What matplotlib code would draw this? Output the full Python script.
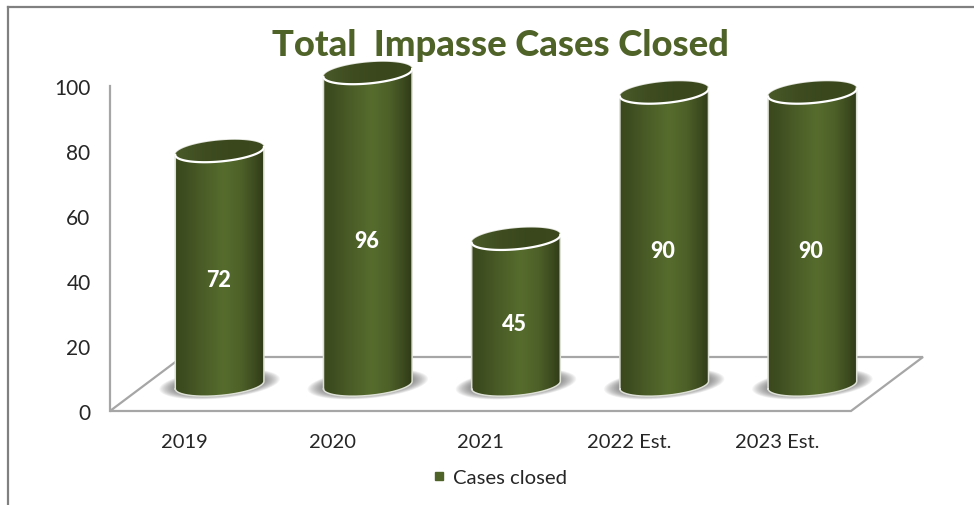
import numpy as np
import matplotlib
matplotlib.use('Agg')
import matplotlib.pyplot as plt
from matplotlib.colors import LinearSegmentedColormap
from matplotlib.lines import Line2D
from matplotlib.patches import Polygon

plt.rcParams['font.family'] = ['Lato', 'DejaVu Sans']

# chart values
categories = ['2019', '2020', '2021', '2022 Est.', '2023 Est.']
cases_closed = [72, 96, 45, 90, 90]
y_ticks = [0, 20, 40, 60, 80, 100]
series_name = 'Cases closed'
title = 'Total  Impasse Cases Closed'

W, H = 974, 506
LEFT, RIGHT, BOTTOM, TOP = 110, 851, 412, 87  # plot box in pixels
GREEN = '#4F6228'
GRAY = '#A6A6A6'

fig = plt.figure(figsize=(W / 100, H / 100), dpi=100)
ax = fig.add_axes([LEFT / W, 1 - BOTTOM / H, (RIGHT - LEFT) / W, (BOTTOM - TOP) / H])
ax.set_xlim(-0.5, len(categories) - 0.5)
ax.set_ylim(0, 100)

# pixel sizes expressed in data units
PX_X = len(categories) / (RIGHT - LEFT)
PX_Y = 100 / (BOTTOM - TOP)

DEPTH_X, DEPTH_Y = 72 * PX_X, 54 * PX_Y      # floor depth
BAR_DX, BAR_DY = 35.5 * PX_X, 26 * PX_Y      # bars stand mid floor
A, B, TILT = 44.5, 10.5, np.radians(5.2)     # ellipse of the cylinder, pixels


def ellipse(cx, cy, a=A, b=B, t0=0.0, t1=2 * np.pi, n=80):
    t = np.linspace(t0, t1, n)
    px = a * np.cos(t) * np.cos(TILT) - b * np.sin(t) * np.sin(TILT)
    py = a * np.cos(t) * np.sin(TILT) + b * np.sin(t) * np.cos(TILT)
    return cx + px * PX_X, cy + py * PX_Y


# floor and back wall line
n = len(categories)
x0, x1 = -0.5, n - 0.5
floor = Polygon([(x0, 0), (x1, 0), (x1 + DEPTH_X, DEPTH_Y), (x0 + DEPTH_X, DEPTH_Y)],
                closed=True, facecolor='white', edgecolor=GRAY, lw=1.6,
                clip_on=False, zorder=1)
ax.add_patch(floor)

side_cmap = LinearSegmentedColormap.from_list('side', [
    (0.0, '#3A481D'), (0.12, '#3F4E20'), (0.3, '#4A5C27'), (0.55, '#566C2D'),
    (0.75, '#4D6028'), (0.9, '#3D4B1F'), (1.0, '#2F3A17')])
top_cmap = LinearSegmentedColormap.from_list('top', ['#4A5A28', '#3E4C20', '#3A471D', '#3C491E'])
grad = np.linspace(0, 1, 256).reshape(1, -1)

for i, v in enumerate(cases_closed):
    cx = i + BAR_DX
    base = BAR_DY
    tip = base + v

    # soft shadow on the floor
    for k in np.linspace(1, 0, 14):
        sx, sy = ellipse(cx, base + 1 * PX_Y, a=A + 2 + 14 * k, b=B + 4 * k)
        ax.fill(sx, sy, color='#555555', alpha=0.06, lw=0, zorder=2, clip_on=False)

    # body: left side down, round the bottom, up the right side, round the top
    bx, by = ellipse(cx, base, t0=np.pi, t1=2 * np.pi)
    tx, ty = ellipse(cx, tip, t0=0, t1=np.pi)
    body = Polygon(np.column_stack([np.r_[bx, tx], np.r_[by, ty]]), closed=True,
                   facecolor='none', edgecolor='none', clip_on=False, zorder=3)
    ax.add_patch(body)
    im = ax.imshow(grad, cmap=side_cmap, aspect='auto', zorder=3,
                   extent=[cx - A * PX_X, cx + A * PX_X, base - 15 * PX_Y, tip + 15 * PX_Y])
    im.set_clip_box(fig.bbox)
    im.set_clip_path(body)

    # light outline of the body
    ax.plot(np.r_[bx, tx, bx[0]], np.r_[by, ty, by[0]], color='#DDE0D6', lw=1.1,
            zorder=4, clip_on=False)

    # top face
    ex, ey = ellipse(cx, tip)
    cap = Polygon(np.column_stack([ex, ey]), closed=True, facecolor='none',
                  edgecolor='none', clip_on=False, zorder=5)
    ax.add_patch(cap)
    im2 = ax.imshow(grad, cmap=top_cmap, aspect='auto', zorder=5,
                    extent=[cx - A * PX_X, cx + A * PX_X, tip - 15 * PX_Y, tip + 15 * PX_Y])
    im2.set_clip_box(fig.bbox)
    im2.set_clip_path(cap)
    fx, fy = ellipse(cx, tip, t0=np.pi, t1=2 * np.pi)
    ax.plot(fx, fy, color='white', lw=1.6, zorder=6, clip_on=False)

    # value label
    ax.text(cx - 1.5 * PX_X, (base + tip) / 2 - 12 * PX_Y, str(v), color='white',
            fontsize=15.5, fontweight=900, ha='center', va='center', zorder=7)

ax.set_xlim(-0.5, n - 0.5)
ax.set_ylim(0, 100)

# axes
for name in ['top', 'right', 'bottom']:
    ax.spines[name].set_visible(False)
ax.spines['left'].set_color(GRAY)
ax.spines['left'].set_linewidth(1.6)
ax.patch.set_visible(False)
ax.set_xticks(range(n))
ax.set_xticklabels(categories, fontsize=14.5, color='#262626')
ax.set_yticks(y_ticks)
ax.set_yticklabels([str(t) for t in y_ticks], fontsize=15, color='#262626')
ax.tick_params(axis='x', length=0, pad=16)
ax.tick_params(axis='y', length=0, pad=14)

ax.set_title(title, x=(500 - LEFT) / (RIGHT - LEFT), y=(BOTTOM - 45) / (BOTTOM - TOP),
             va='center', color=GREEN, fontsize=26.2, fontweight=900, pad=0)

handle = Line2D([], [], linestyle='none', marker='s', markersize=6,
                markerfacecolor=GREEN, markeredgecolor=GREEN)
fig.legend([handle], [series_name], loc='center', bbox_to_anchor=(499 / W, 1 - 478 / H),
           frameon=False, fontsize=14.6, labelcolor='#262626', handlelength=0.8,
           handletextpad=0.3)

# outer frame of the pasted chart
frame = '#808080'
fig.add_artist(Line2D([8 / W, 8 / W], [0, 1 - 8 / H], color=frame, lw=1.6))
fig.add_artist(Line2D([8 / W, 1], [1 - 8 / H, 1 - 8 / H], color=frame, lw=1.6))

fig.savefig('out.png', dpi=100)
